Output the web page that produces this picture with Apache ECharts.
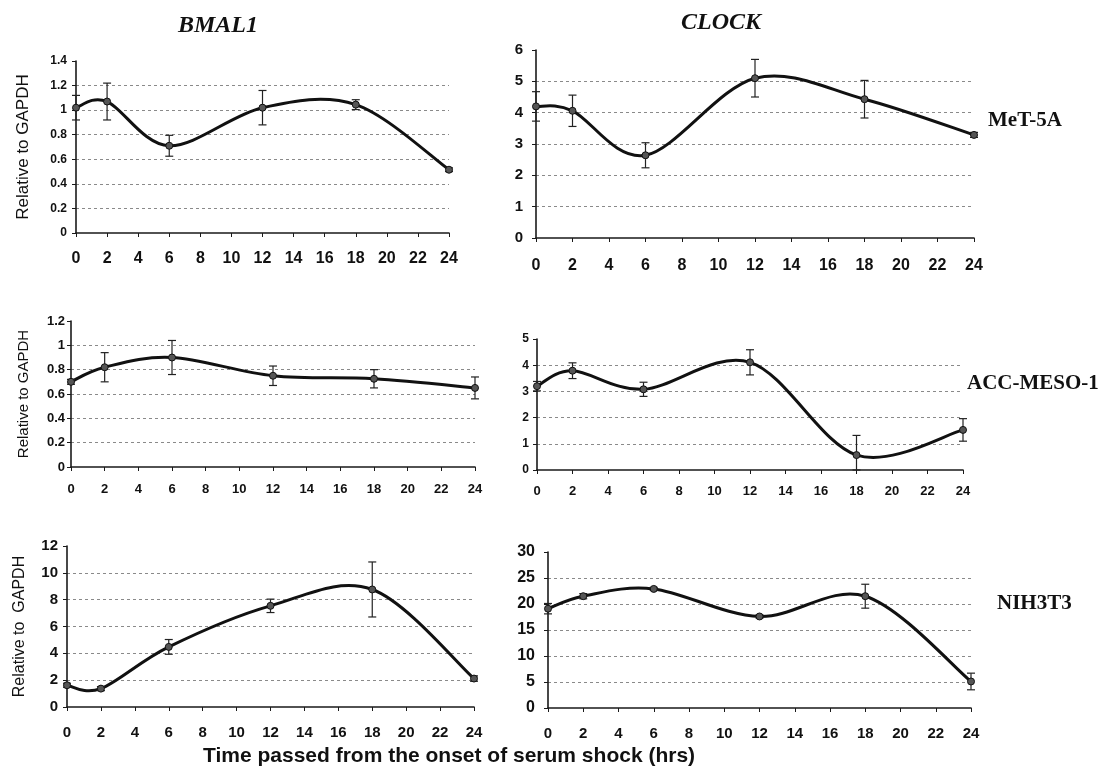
<!DOCTYPE html>
<html>
<head>
<meta charset="utf-8">
<script src="https://cdn.jsdelivr.net/npm/echarts@6/dist/echarts.min.js"></script>
<style>
html,body{margin:0;padding:0;background:#fff;}
#chart{width:1100px;height:779px;}
</style>
</head>
<body>
<div id="chart"></div>
<script>
// ---- data ----
const hours = [0, 2, 6, 12, 18, 24];
const xTickInterval = 2;
const xMax = 24;

const bmal1Met5a    = [1.02, 1.07, 0.71, 1.02, 1.045, 0.515];
const bmal1Met5aErr = [0.10, 0.15, 0.085, 0.14, 0.04, 0.015];
const clockMet5a    = [4.2, 4.06, 2.64, 5.1, 4.43, 3.29];
const clockMet5aErr = [0.47, 0.5, 0.4, 0.6, 0.6, 0.08];

const bmal1Acc      = [0.70, 0.82, 0.90, 0.75, 0.725, 0.65];
const bmal1AccErr   = [0.02, 0.12, 0.14, 0.08, 0.075, 0.09];
const clockAcc      = [3.2, 3.79, 3.08, 4.11, 0.57, 1.53];
const clockAccErr   = [0.18, 0.3, 0.27, 0.48, 0.75, 0.43];

const bmal1Nih      = [1.62, 1.37, 4.48, 7.54, 8.76, 2.12];
const bmal1NihErr   = [0.15, 0.15, 0.55, 0.5, 2.05, 0.2];
const clockNih      = [19.1, 21.5, 22.9, 17.6, 21.5, 5.1];
const clockNihErr   = [1.0, 0.5, 0.3, 0.3, 2.3, 1.6];

const geneTitles = ['BMAL1', 'CLOCK'];
const cellLines = ['MeT-5A', 'ACC-MESO-1', 'NIH3T3'];
const yAxisName = 'Relative to GAPDH';
const xAxisTitle = 'Time passed from the onset of serum shock (hrs)';

// ---- panels (layout) ----
const panels = [
  {vals: bmal1Met5a, err: bmal1Met5aErr, yMax: 1.4, yInt: 0.2, grid:{left:76, top:61, width:373, height:172},
   yFont:12, xFont:16, yMargin:9, xMargin:18, name: yAxisName, nameGap:44, nameFont:17},
  {vals: clockMet5a, err: clockMet5aErr, yMax: 6, yInt: 1, grid:{left:536, top:50, width:438, height:188},
   yFont:15, xFont:16, yMargin:13, xMargin:20},
  {vals: bmal1Acc, err: bmal1AccErr, yMax: 1.2, yInt: 0.2, grid:{left:71, top:321, width:404, height:146},
   yFont:13, xFont:13, yMargin:6, xMargin:16, name: yAxisName, nameGap:40, nameFont:15},
  {vals: clockAcc, err: clockAccErr, yMax: 5, yInt: 1, grid:{left:537, top:339, width:426, height:131},
   yFont:12, xFont:13, yMargin:8, xMargin:15},
  {vals: bmal1Nih, err: bmal1NihErr, yMax: 12, yInt: 2, grid:{left:67, top:546, width:407, height:161},
   yFont:15, xFont:15, yMargin:9, xMargin:18, name: 'Relative to  GAPDH', nameGap:39, nameFont:16},
  {vals: clockNih, err: clockNihErr, yMax: 30, yInt: 5, grid:{left:548, top:552, width:423, height:156},
   yFont:16, xFont:15, yMargin:13, xMargin:18}
];

const FONT = 'Liberation Sans, Arial, sans-serif';
const SERIF = 'Liberation Serif, Times New Roman, serif';

// Excel-style smoothed line: cubic Bezier per segment, control points from neighbours (1/6 rule)
function smoothSegmentRenderer(vals) {
  const n = hours.length;
  return function (params, api) {
    const k = params.dataIndex;
    if (k >= n - 1) return null;
    const P = j => {
      const c = Math.max(0, Math.min(n - 1, j));
      return api.coord([hours[c], vals[c]]);
    };
    const p0 = P(k - 1), p1 = P(k), p2 = P(k + 1), p3 = P(k + 2);
    return {
      type: 'bezierCurve',
      shape: {
        x1: p1[0], y1: p1[1], x2: p2[0], y2: p2[1],
        cpx1: p1[0] + (p2[0] - p0[0]) / 6, cpy1: p1[1] + (p2[1] - p0[1]) / 6,
        cpx2: p2[0] - (p3[0] - p1[0]) / 6, cpy2: p2[1] - (p3[1] - p1[1]) / 6
      },
      style: {stroke: '#111', lineWidth: 3, fill: null, lineCap: 'round'}
    };
  };
}

const grids = [], xAxes = [], yAxes = [], series = [];
panels.forEach((p, i) => {
  grids.push(Object.assign({outerBoundsMode:'none', containLabel:false}, p.grid));
  xAxes.push({
    type:'value', gridIndex:i, min:0, max:xMax, interval:xTickInterval,
    axisLine:{show:true, onZero:false, lineStyle:{color:'#1a1a1a', width:1.6}},
    axisTick:{show:true, inside:false, length:4, lineStyle:{color:'#1a1a1a', width:1}},
    axisLabel:{fontFamily:FONT, fontWeight:'bold', fontSize:p.xFont, color:'#111', margin:p.xMargin},
    splitLine:{show:false}
  });
  const nLines = Math.round(p.yMax / p.yInt) + 1;
  const colors = [];
  for (let k = 0; k < nLines; k++) colors.push(k === 0 || k === nLines - 1 ? 'rgba(0,0,0,0)' : '#8a8a8a');
  yAxes.push({
    type:'value', gridIndex:i, min:0, max:p.yMax, interval:p.yInt,
    name: p.name || '', nameLocation:'middle', nameGap:p.nameGap || 30, nameRotate:90,
    nameTextStyle:{fontFamily:FONT, fontSize:p.nameFont || 14, color:'#111'},
    axisLine:{show:true, lineStyle:{color:'#1a1a1a', width:1.6}},
    axisTick:{show:true, inside:false, length:4, lineStyle:{color:'#1a1a1a', width:1}},
    axisLabel:{fontFamily:FONT, fontWeight:'bold', fontSize:p.yFont, color:'#111', margin:p.yMargin},
    splitLine:{show:true, lineStyle:{color:colors, type:[3,3], width:1}}
  });
  // smoothed curve
  series.push({
    type:'custom', xAxisIndex:i, yAxisIndex:i, z:2, silent:true,
    encode:{x:0, y:1},
    data: hours.map((h, k) => [h, p.vals[k]]),
    renderItem: smoothSegmentRenderer(p.vals)
  });
  // error bars
  series.push({
    type:'custom', xAxisIndex:i, yAxisIndex:i, z:3, silent:true,
    encode:{x:0, y:[1, 2]},
    data: hours.map((h, k) => [h, Math.max(0, p.vals[k] - p.err[k]), p.vals[k] + p.err[k]]),
    renderItem: function (params, api) {
      const x = api.value(0);
      const lo = api.coord([x, api.value(1)]);
      const hi = api.coord([x, api.value(2)]);
      const w = 4;
      const st = {stroke:'#222', lineWidth:1.2};
      return {type:'group', children:[
        {type:'line', shape:{x1:hi[0], y1:hi[1], x2:lo[0], y2:lo[1]}, style:st},
        {type:'line', shape:{x1:hi[0]-w, y1:hi[1], x2:hi[0]+w, y2:hi[1]}, style:st},
        {type:'line', shape:{x1:lo[0]-w, y1:lo[1], x2:lo[0]+w, y2:lo[1]}, style:st}
      ]};
    }
  });
  // markers
  series.push({
    type:'scatter', xAxisIndex:i, yAxisIndex:i, z:4, silent:true,
    data: hours.map((h, k) => [h, p.vals[k]]),
    symbol:'circle', symbolSize:7,
    itemStyle:{color:'#555', borderColor:'#111', borderWidth:1, opacity:1}
  });
});

const graphics = [
  {type:'text', left:178, top:14, style:{text:geneTitles[0], font:'italic bold 24px ' + SERIF, fill:'#111'}},
  {type:'text', left:681, top:11, style:{text:geneTitles[1], font:'italic bold 24px ' + SERIF, fill:'#111'}},
  {type:'text', left:988, top:110, style:{text:cellLines[0], font:'bold 21px ' + SERIF, fill:'#111'}},
  {type:'text', left:967, top:373, style:{text:cellLines[1], font:'bold 21px ' + SERIF, fill:'#111'}},
  {type:'text', left:997, top:593, style:{text:cellLines[2], font:'bold 21px ' + SERIF, fill:'#111'}},
  {type:'text', left:203, top:746, style:{text:xAxisTitle, font:'bold 21px ' + FONT, fill:'#111'}}
];

const chart = echarts.init(document.getElementById('chart'), null, {renderer:'canvas'});
chart.setOption({
  backgroundColor:'#ffffff',
  animation:false,
  grid:grids, xAxis:xAxes, yAxis:yAxes, series:series, graphic:graphics
});
</script>
</body>
</html>
